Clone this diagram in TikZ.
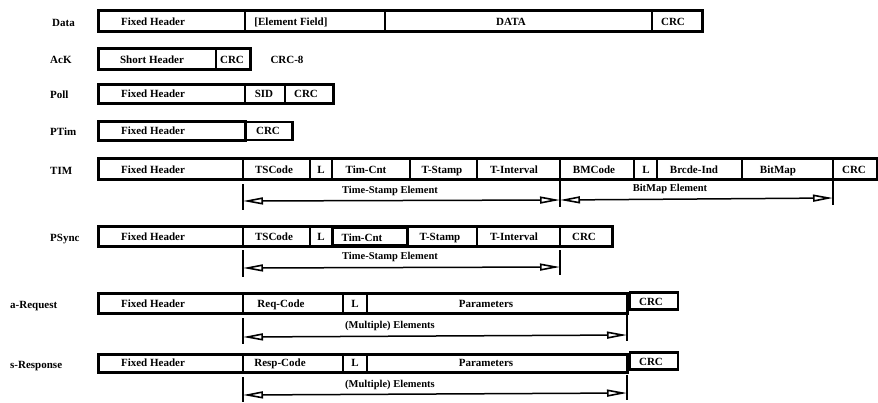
\documentclass[tikz,border=0pt]{standalone}
\usepackage{fontspec}
\setmainfont{Liberation Serif}
\usetikzlibrary{arrows.meta}
\newcommand\yt{0}
\newcommand\yb{0}
\newcommand\fld[5]{%
  \node[fieldbox, minimum width={(#3-#2)*1pt}, minimum height={(\yb-\yt)*1pt}] (#1) at ({(#2+#3)/2},{(\yt+\yb)/2}) {};
  \node[ftext] (#1-t) at (#4,{\yb-5.5}) {#5};}
\newcommand\setrow[2]{\renewcommand\yt{#1}\renewcommand\yb{#2}}
\tikzset{
  fieldbox/.style={draw, line width=1.2pt, rectangle, inner sep=0pt},
  frame/.style={line width=2.2pt},
  boldbox/.style={draw, line width=2.2pt, fill=white},
  ftext/.style={font=\bfseries\fontsize{11}{13}\selectfont, inner sep=0pt, anchor=base},
  rowlabel/.style={font=\bfseries\fontsize{11}{13}\selectfont, inner sep=0pt, anchor=base west},
  ticks/.style={line width=1.6pt},
  dim/.style={line width=1.5pt, {Triangle[open,length=20pt,width=7pt,line width=1.6pt]}-{Triangle[open,length=20pt,width=7pt,line width=1.6pt]}},
  dimtext/.style={font=\bfseries\fontsize{10.5}{12}\selectfont, inner sep=0pt}
}
\begin{document}
\begin{tikzpicture}[x=1pt,y=-1pt]
\useasboundingbox (0,0) rectangle (878,402);
\fill[white] (0,0) rectangle (878,402);

% ---------- Data ----------
\setrow{11}{31}
\node[rowlabel] (lData) at (52,26.5) {Data};
\fld{dfh}{99}{245}{153}{Fixed Header}
\fld{def}{245}{385}{291}{[Element Field]}
\fld{ddata}{385}{652}{511}{DATA}
\fld{dcrc}{652}{702}{673}{CRC}
\draw[frame] (dfh.north west) rectangle (dcrc.south east);

% ---------- AcK ----------
\setrow{49}{69}
\node[rowlabel] (lAck) at (50,63.5) {AcK};
\fld{ash}{99}{216}{152}{Short Header}
\fld{acrc}{216}{250}{232}{CRC}
\draw[line width=3pt] (ash.north west) rectangle (acrc.south east);
\node[ftext] (crc8) at (287,63.5) {CRC-8};

% ---------- Poll ----------
\setrow{85}{103}
\node[rowlabel] (lPoll) at (50,98) {Poll};
\fld{pfh}{99}{245}{153}{Fixed Header}
\fld{psid}{245}{285}{264}{SID}
\fld{pcrc}{285}{333}{306}{CRC}
\draw[frame] (pfh.north west) rectangle (pcrc.south east);

% ---------- PTim ----------
\setrow{122}{140}
\node[rowlabel] (lPTim) at (50,135) {PTim};
\fld{tfh}{99}{245}{153}{Fixed Header}
\draw[frame] (tfh.north west) rectangle (tfh.south east);
\node[boldbox, minimum width=47pt, minimum height=18pt] (tcrc) at (269,131) {};
\node[ftext] (tcrc-t) at (268,134.5) {CRC};

% ---------- TIM ----------
\setrow{159}{179}
\node[rowlabel] (lTIM) at (50,174) {TIM};
\fld{mfh}{99}{243}{153}{Fixed Header}
\fld{mtsc}{243}{310}{274}{TSCode}
\fld{ml}{310}{332}{321}{L}
\fld{mtc}{332}{410}{366}{Tim-Cnt}
\fld{mts}{410}{477}{442}{T-Stamp}
\fld{mti}{477}{560}{514}{T-Interval}
\fld{mbm}{560}{634}{594}{BMCode}
\fld{ml2}{634}{657}{646}{L}
\fld{mbi}{657}{742}{694}{Brcde-Ind}
\fld{mmap}{742}{833}{778}{BitMap}
\fld{mcrc}{833}{877}{854}{CRC}
\draw[frame] (mfh.north west) rectangle (mcrc.south east);

\coordinate (t1a) at (243,184); \coordinate (t1b) at (243,210);
\coordinate (t2a) at (560,181); \coordinate (t2b) at (560,207);
\coordinate (t3a) at (833,179); \coordinate (t3b) at (833,205);
\coordinate (a1) at (243,201); \coordinate (a2) at (560,200); \coordinate (a3) at (833,198);
\draw[ticks] (t1a) -- (t1b);
\draw[ticks] (t2a) -- (t2b);
\draw[ticks] (t3a) -- (t3b);
\draw[dim] (a1) -- (a2);
\draw[dim] (a2) -- (a3);
\node[dimtext] (tse1) at (390,191) {Time-Stamp Element};
\node[dimtext] (bme) at (670,189) {BitMap Element};

% ---------- PSync ----------
\setrow{227}{246}
\node[rowlabel] (lPSync) at (50,241.5) {PSync};
\fld{sfh}{99}{243}{153}{Fixed Header}
\fld{stsc}{243}{310}{274}{TSCode}
\fld{sl}{310}{332}{321}{L}
\node[boldbox, minimum width=75pt, minimum height=18pt] (stc) at (370,236.5) {};
\node[ftext] (stc-t) at (362,241) {Tim-Cnt};
\fld{sts}{408}{477}{440}{T-Stamp}
\fld{sti}{477}{560}{514}{T-Interval}
\fld{scrc}{560}{612}{584}{CRC}
\draw[frame] (sfh.north west) rectangle (scrc.south east);

\coordinate (p1a) at (243,250); \coordinate (p1b) at (243,277);
\coordinate (p2a) at (560,250); \coordinate (p2b) at (560,275);
\coordinate (b1) at (243,268); \coordinate (b2) at (560,267);
\draw[ticks] (p1a) -- (p1b);
\draw[ticks] (p2a) -- (p2b);
\draw[dim] (b1) -- (b2);
\node[dimtext] (tse2) at (390,257) {Time-Stamp Element};

% ---------- a-Request ----------
\setrow{294}{313}
\node[rowlabel] (lReq) at (10,308) {a-Request};
\fld{qfh}{99}{243}{153}{Fixed Header}
\fld{qrc}{243}{343}{281}{Req-Code}
\fld{ql}{343}{367}{355}{L}
\fld{qpar}{367}{627}{486}{Parameters}
\draw[frame] (qfh.north west) rectangle (qpar.south east);
\node[boldbox, minimum width=48pt, minimum height=17pt] (qcrc) at (654,301) {};
\node[ftext] (qcrc-t) at (651,305) {CRC};

\coordinate (q1a) at (243,318); \coordinate (q1b) at (243,344);
\coordinate (q2a) at (627,314); \coordinate (q2b) at (627,341);
\coordinate (c1) at (243,337); \coordinate (c2) at (627,335);
\draw[ticks] (q1a) -- (q1b);
\draw[ticks] (q2a) -- (q2b);
\draw[dim] (c1) -- (c2);
\node[dimtext] (me1) at (390,326) {(Multiple) Elements};

% ---------- s-Response ----------
\setrow{355}{372}
\node[rowlabel] (lResp) at (10,368) {s-Response};
\fld{rfh}{99}{243}{153}{Fixed Header}
\fld{rrc}{243}{343}{280}{Resp-Code}
\fld{rl}{343}{367}{355}{L}
\fld{rpar}{367}{627}{486}{Parameters}
\draw[frame] (rfh.north west) rectangle (rpar.south east);
\node[boldbox, minimum width=48pt, minimum height=17pt] (rcrc) at (654,361) {};
\node[ftext] (rcrc-t) at (651,365) {CRC};

\coordinate (r1a) at (243,377); \coordinate (r1b) at (243,402);
\coordinate (r2a) at (627,375); \coordinate (r2b) at (627,400);
\coordinate (d1) at (243,395); \coordinate (d2) at (627,393);
\draw[ticks] (r1a) -- (r1b);
\draw[ticks] (r2a) -- (r2b);
\draw[dim] (d1) -- (d2);
\node[dimtext] (me2) at (390,385) {(Multiple) Elements};
\end{tikzpicture}
\end{document}
